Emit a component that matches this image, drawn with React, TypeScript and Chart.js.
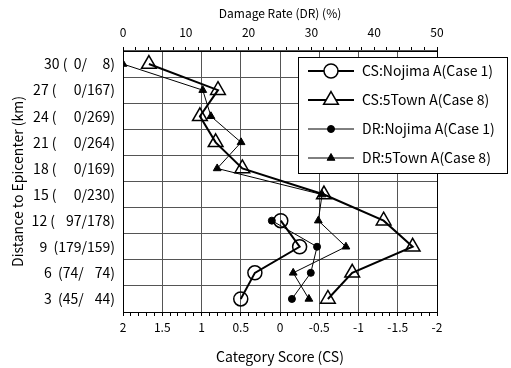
import React, { useEffect, useRef } from "react";
import { Chart, registerables } from "chart.js";

Chart.register(...registerables);

const F = "\u2007";

const distanceLabels = [
  `30 (  0/${F}${F}8)`,
  `27 (${F}   0/167)`,
  `24 (${F}   0/269)`,
  `21 (${F}   0/264)`,
  `18 (${F}   0/169)`,
  `15 (${F}   0/230)`,
  `12 (${F} 97/178)`,
  `9  (179/159)`,
  `6  (74/${F} 74)`,
  `3  (45/${F} 44)`,
];

const csNojimaRows = [6, 7, 8, 9];
const csNojimaValues = [-0.01, -0.25, 0.32, 0.5];

const cs5TownValues = [1.67, 0.79, 1.02, 0.82, 0.48, -0.56, -1.32, -1.69, -0.92, -0.61];

const drNojimaRows = [6, 7, 8, 9];
const drNojimaValues = [23.7, 30.9, 29.9, 26.9];

const dr5TownValues = [0, 12.7, 14.0, 18.8, 15.0, 31.7, 31.1, 35.5, 27.1, 29.6];

const legendTexts = [
  "CS:Nojima A(Case 1)",
  "CS:5Town A(Case 8)",
  "DR:Nojima A(Case 1)",
  "DR:5Town A(Case 8)",
];

const FONT = "'Noto Sans CJK JP', 'Noto Sans', sans-serif";

function pointPath(ctx: CanvasRenderingContext2D, style: string, x: number, y: number, r: number) {
  ctx.beginPath();
  if (style === "circle") {
    ctx.arc(x, y, r, 0, Math.PI * 2);
  } else {
    let rad = 0;
    ctx.moveTo(x + Math.sin(rad) * r, y - Math.cos(rad) * r);
    rad += (2 * Math.PI) / 3;
    ctx.lineTo(x + Math.sin(rad) * r, y - Math.cos(rad) * r);
    rad += (2 * Math.PI) / 3;
    ctx.lineTo(x + Math.sin(rad) * r, y - Math.cos(rad) * r);
  }
  ctx.closePath();
}

const framePlugin = {
  id: "frameAndLegend",
  afterDraw(chart: any) {
    const { ctx, chartArea } = chart;
    ctx.save();
    ctx.strokeStyle = "#000";
    ctx.lineWidth = 1;
    ctx.strokeRect(
      Math.round(chartArea.left) + 0.5,
      Math.round(chartArea.top) + 0.5,
      Math.round(chartArea.right - chartArea.left),
      Math.round(chartArea.bottom - chartArea.top)
    );
    const left = Math.round(chartArea.right) - 139;
    const top = Math.round(chartArea.top) + 6;
    const w = 209;
    const h = 116;
    ctx.fillStyle = "#fff";
    ctx.fillRect(left, top, w, h);
    ctx.strokeRect(left + 0.5, top + 0.5, w, h);
    const dsets = chart.data.datasets;
    for (let i = 0; i < dsets.length; i++) {
      const ds = dsets[i];
      const y = top + 14 + i * 29;
      ctx.beginPath();
      ctx.strokeStyle = "#000";
      ctx.lineWidth = ds.borderWidth;
      ctx.moveTo(left + 10, y);
      ctx.lineTo(left + 56, y);
      ctx.stroke();
      pointPath(ctx, ds.pointStyle, left + 33, y, ds.pointRadius);
      ctx.fillStyle = ds.pointStyle === "circle" && ds.pointRadius > 5 ? "#fff" : ds.pointBackgroundColor;
      if (ds.pointRadius > 5) ctx.fillStyle = "#fff";
      ctx.fill();
      ctx.lineWidth = ds.pointBorderWidth;
      ctx.strokeStyle = "#000";
      ctx.stroke();
      ctx.fillStyle = "#000";
      ctx.font = `14px ${FONT}`;
      ctx.textBaseline = "middle";
      ctx.textAlign = "left";
      ctx.fillText(legendTexts[i], left + 64, y);
    }
    ctx.restore();
  },
};

const isMult = (v: number, m: number) => Math.abs(v / m - Math.round(v / m)) < 1e-6;

export default function App() {
  const ref = useRef<HTMLCanvasElement | null>(null);
  useEffect(() => {
    if (!ref.current) return;
    const chart = new Chart(ref.current, {
      type: "line",
      data: {
        datasets: [
          {
            label: legendTexts[0],
            data: csNojimaRows.map((r, i) => ({ x: csNojimaValues[i], y: distanceLabels[r] })),
            xAxisID: "x",
            yAxisID: "y",
            borderColor: "#000",
            borderWidth: 2,
            pointStyle: "circle",
            pointRadius: 7,
            pointBackgroundColor: "rgba(255,255,255,0)",
            pointBorderColor: "#000",
            pointBorderWidth: 1.5,
            order: 0,
          },
          {
            label: legendTexts[1],
            data: distanceLabels.map((l, i) => ({ x: cs5TownValues[i], y: l })),
            xAxisID: "x",
            yAxisID: "y",
            borderColor: "#000",
            borderWidth: 2,
            pointStyle: "triangle",
            pointRadius: 8.5,
            pointBackgroundColor: "rgba(255,255,255,0)",
            pointBorderColor: "#000",
            pointBorderWidth: 1.5,
            order: 0,
          },
          {
            label: legendTexts[2],
            data: drNojimaRows.map((r, i) => ({ x: drNojimaValues[i], y: distanceLabels[r] })),
            xAxisID: "x2",
            yAxisID: "y",
            borderColor: "#000",
            borderWidth: 1,
            pointStyle: "circle",
            pointRadius: 3.5,
            pointBackgroundColor: "#000",
            pointBorderColor: "#000",
            pointBorderWidth: 1,
            order: 1,
          },
          {
            label: legendTexts[3],
            data: distanceLabels.map((l, i) => ({ x: dr5TownValues[i], y: l })),
            xAxisID: "x2",
            yAxisID: "y",
            borderColor: "#000",
            borderWidth: 1,
            pointStyle: "triangle",
            pointRadius: 4.5,
            pointBackgroundColor: "#000",
            pointBorderColor: "#000",
            pointBorderWidth: 1,
            order: 1,
          },
        ] as any,
      },
      options: {
        responsive: false,
        animation: false,
        layout: { padding: { left: 0, right: 74, top: 0, bottom: 0 } },
        plugins: {
          legend: { display: false },
          tooltip: { enabled: false },
        },
        scales: {
          x: {
            type: "linear",
            position: "bottom",
            min: -2,
            max: 2,
            reverse: true,
            afterFit: (s: any) => {
              s.height = 56;
            },
            ticks: {
              stepSize: 0.1,
              autoSkip: false,
              maxRotation: 0,
              padding: 4,
              color: "#000",
              font: { family: FONT, size: 12 },
              callback: (v: any) => {
                const n = Number(v);
                if (!isMult(n, 0.5)) return "";
                const r = Math.round(n * 10) / 10;
                return r === 0 ? "0" : String(r);
              },
            },
            grid: {
              color: (c: any) => (c.tick && isMult(c.tick.value, 0.5) ? "#555" : "rgba(0,0,0,0)"),
              tickColor: "#000",
              tickLength: 4,
              lineWidth: 1,
            },
            border: { color: "#000" },
            title: {
              display: true,
              text: "Category Score (CS)",
              color: "#000",
              font: { family: FONT, size: 14 },
              padding: { top: 4, bottom: 3 },
            },
          },
          x2: {
            type: "linear",
            position: "top",
            min: 0,
            max: 50,
            afterFit: (s: any) => {
              s.height = 51;
            },
            ticks: {
              stepSize: 2,
              autoSkip: false,
              maxRotation: 0,
              padding: 7,
              color: "#000",
              font: { family: FONT, size: 12 },
              callback: (v: any) => {
                const n = Number(v);
                return isMult(n, 10) ? String(Math.round(n)) : "";
              },
            },
            grid: {
              drawOnChartArea: false,
              tickColor: "#000",
              tickLength: 4,
            },
            border: { color: "#000" },
            title: {
              display: true,
              text: "Damage Rate (DR) (%)",
              color: "#000",
              font: { family: FONT, size: 12 },
              padding: { top: 6, bottom: 4 },
            },
          },
          y: {
            type: "category",
            labels: distanceLabels,
            offset: true,
            afterFit: (s: any) => {
              s.width = 123;
            },
            ticks: {
              padding: 8,
              color: "#000",
              font: { family: FONT, size: 14 },
            },
            grid: {
              offset: true,
              color: "#555",
              drawTicks: false,
            },
            border: { color: "#000" },
            title: {
              display: true,
              text: "Distance to Epicenter (km)",
              color: "#000",
              font: { family: FONT, size: 14 },
              padding: { top: 9, bottom: 4 },
            },
          },
        },
      },
      plugins: [framePlugin],
    } as any);
    return () => chart.destroy();
  }, []);
  return (
    <canvas
      ref={ref}
      width={511}
      height={368}
      style={{ position: "absolute", left: 0, top: 0, display: "block" }}
    />
  );
}
